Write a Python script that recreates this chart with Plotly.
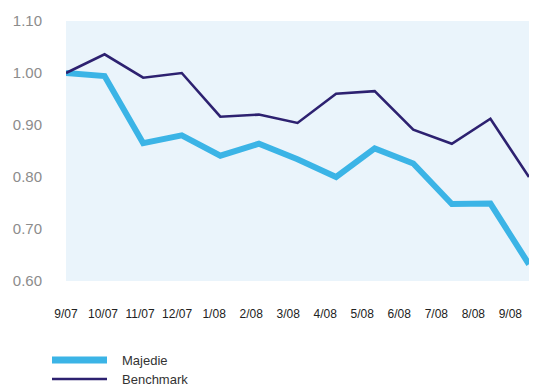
import plotly.graph_objects as go

# Monthly index values, rebased to 1.00 at 9/07
months = ["9/07", "10/07", "11/07", "12/07", "1/08", "2/08", "3/08",
          "4/08", "5/08", "6/08", "7/08", "8/08", "9/08"]
majedie = [1.000, 0.994, 0.865, 0.880, 0.841, 0.864, 0.834,
           0.800, 0.855, 0.826, 0.748, 0.749, 0.632]
benchmark = [1.000, 1.036, 0.991, 1.000, 0.916, 0.920, 0.904,
             0.960, 0.965, 0.891, 0.864, 0.912, 0.800]
y_ticks = [0.60, 0.70, 0.80, 0.90, 1.00, 1.10]

series_names = ["Majedie", "Benchmark"]
series_colors = ["#3bb4e6", "#2d2170"]
series_widths = [6, 2.6]

W, H = 541, 387
ML, MR, MT, MB = 66, 12, 21, 106
plot_w = W - ML - MR
plot_h = H - MT - MB

x_idx = list(range(len(months)))
fig = go.Figure()
for name, vals, col, lw in zip(series_names, [majedie, benchmark],
                               series_colors, series_widths):
    fig.add_trace(go.Scatter(
        x=x_idx, y=vals, mode="lines", name=name,
        line=dict(color=col, width=lw), showlegend=False,
    ))

# month labels sit on a slightly tighter pitch than the data points
px_per_unit = plot_w / (len(months) - 1)
label_pitch_px = 37.03
tick_pos = [i * label_pitch_px / px_per_unit for i in x_idx]

fig.update_xaxes(
    range=[0, len(months) - 1], showgrid=False, zeroline=False, showline=False,
    tickmode="array", tickvals=tick_pos, ticktext=months,
    ticks="outside", ticklen=22, tickcolor="rgba(0,0,0,0)",
    tickfont=dict(family="Liberation Sans, Arial, sans-serif", size=12, color="#222"),
)
fig.update_yaxes(
    range=[0.6, 1.1], showgrid=False, zeroline=False, showline=False,
    tickmode="array", tickvals=y_ticks, ticktext=[f"{v:.2f}" for v in y_ticks],
    ticks="outside", ticklen=20, tickcolor="rgba(0,0,0,0)",
    tickfont=dict(family="Liberation Sans, Arial, sans-serif", size=15, color="#8c8c8c"),
)

# legend drawn below the chart
legend_rows_px = [360, 379]
shapes, annotations = [], []
for name, col, lw, ypx in zip(series_names, series_colors, series_widths, legend_rows_px):
    yp = (MT + plot_h - ypx) / plot_h
    shapes.append(dict(type="line", xref="paper", yref="paper",
                       x0=(52 - ML) / plot_w, x1=(107 - ML) / plot_w, y0=yp, y1=yp,
                       line=dict(color=col, width=lw + 1 if lw > 5 else lw)))
    annotations.append(dict(xref="paper", yref="paper", x=(120 - ML) / plot_w, y=yp,
                            text=name, showarrow=False, xanchor="left", yanchor="middle",
                            font=dict(family="Liberation Sans, Arial, sans-serif",
                                      size=13, color="#333")))

fig.update_layout(
    width=W, height=H, margin=dict(l=ML, r=MR, t=MT, b=MB),
    paper_bgcolor="white", plot_bgcolor="#eaf4fb",
    shapes=shapes, annotations=annotations, showlegend=False,
)

fig.write_html("out.html")
